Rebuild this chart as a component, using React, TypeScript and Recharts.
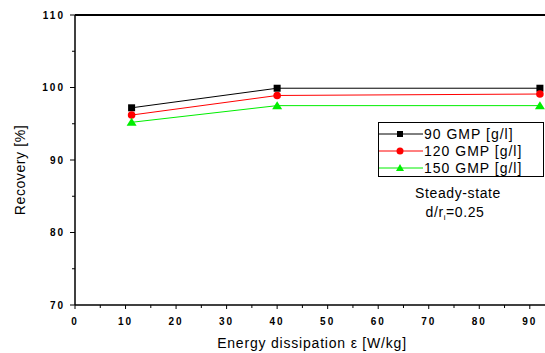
import React from 'react'
import { LineChart, Line, XAxis, YAxis, ReferenceLine, Customized } from 'recharts'

const energy = [11.2, 40, 92]
const gmp90 = [97.2, 99.9, 99.9]
const gmp120 = [96.2, 98.9, 99.1]
const gmp150 = [95.2, 97.5, 97.5]
const xTicks = [0, 5, 10, 15, 20, 25, 30, 35, 40, 45, 50, 55, 60, 65, 70, 75, 80, 85, 90]
const yTicks = [70, 75, 80, 85, 90, 95, 100, 105, 110]

const data = energy.map((e, i) => ({ e, a: gmp90[i], b: gmp120[i], c: gmp150[i] }))

const font = 'Arial, "Liberation Sans", sans-serif'

const XTick = (props: any) => {
  const { x, y, payload } = props
  const major = payload.value % 10 === 0
  return (
    <g>
      <line x1={x} x2={x} y1={y} y2={y + (major ? 4 : 3)} stroke="#000" />
      {major && (
        <text x={x} y={y + 20} textAnchor="middle" fontSize={10} fontWeight="bold" letterSpacing={2} fill="#000" fontFamily={font}>
          {payload.value}
        </text>
      )}
    </g>
  )
}

const YTick = (props: any) => {
  const { x, y, payload } = props
  const major = payload.value % 10 === 0
  return (
    <g>
      <line x1={x} x2={x - (major ? 5 : 3)} y1={y} y2={y} stroke="#000" />
      {major && (
        <text x={x - 10} y={y + 3.5} textAnchor="end" fontSize={10} fontWeight="bold" letterSpacing={2} fill="#000" fontFamily={font}>
          {payload.value}
        </text>
      )}
    </g>
  )
}

const Square = (p: any) => <rect x={p.cx - 3.5} y={p.cy - 3.5} width={7} height={7} fill="#000" />
const Circle = (p: any) => <circle cx={p.cx} cy={p.cy} r={3.8} fill="#ff0000" />
const Tri = (p: any) => <path d={`M${p.cx},${p.cy - 4.5} L${p.cx + 5},${p.cy + 3.5} L${p.cx - 5},${p.cy + 3.5} Z`} fill="#00ee00" />

const series = [
  { label: '90 GMP [g/l]', color: '#000', mark: 'sq' },
  { label: '120 GMP [g/l]', color: '#ff0000', mark: 'ci' },
  { label: '150 GMP [g/l]', color: '#00ee00', mark: 'tr' },
]

const LegendBox = () => (
  <div style={{ position: 'absolute', left: 378, top: 122, width: 166, height: 55, border: '1px solid #000', background: '#fff', boxSizing: 'border-box', paddingTop: 2 }}>
    {series.map(s => (
      <div key={s.label} style={{ display: 'flex', alignItems: 'center', height: 17, fontFamily: font, fontSize: 14, color: '#000' }}>
        <svg width={44} height={12}>
          <line x1={0} x2={44} y1={6} y2={6} stroke={s.color} />
          {s.mark === 'sq' && <rect x={18} y={3} width={6} height={6} fill={s.color} />}
          {s.mark === 'ci' && <circle cx={21} cy={6} r={3.5} fill={s.color} />}
          {s.mark === 'tr' && <path d="M21,2 L25,9 L17,9 Z" fill={s.color} />}
        </svg>
        <span style={{ marginLeft: 1, letterSpacing: 1 }}>{s.label}</span>
      </div>
    ))}
  </div>
)

const Note = () => (
  <g fontFamily={font} fill="#000">
    <text x={458} y={198} textAnchor="middle" fontSize={14} letterSpacing={0.6}>Steady-state</text>
    <text x={455} y={217} textAnchor="middle" fontSize={14} letterSpacing={0.6}>
      d/r<tspan fontSize={8} dy={3}>i</tspan><tspan dy={-3}>=0.25</tspan>
    </text>
    <text x={312} y={348} textAnchor="middle" fontSize={14} letterSpacing={0.8}>Energy dissipation ε [W/kg]</text>
    <text x={25} y={170} textAnchor="middle" fontSize={14} letterSpacing={0.6} transform="rotate(-90 25 170)">Recovery [%]</text>
  </g>
)

export default function App() {
  return (
    <div style={{ position: 'fixed', left: 0, top: 0, width: 545, height: 353, overflow: 'hidden', background: '#fff' }}>
      <LineChart width={545} height={353} data={data} margin={{ top: 15, right: -3, bottom: 0, left: 0 }}>
        <XAxis
          dataKey="e"
          type="number"
          domain={[0, 93.6]}
          ticks={xTicks}
          allowDataOverflow
          height={48}
          tickSize={0}
          tickMargin={0}
          tick={<XTick />}
          stroke="#000"
          strokeWidth={1.5}
        />
        <YAxis
          type="number"
          domain={[70, 110]}
          ticks={yTicks}
          width={75}
          tickSize={0}
          tickMargin={0}
          tick={<YTick />}
          stroke="#000"
          strokeWidth={1.5}
        />
        <ReferenceLine y={110} stroke="#000" strokeWidth={2} />
        <Line dataKey="a" stroke="#000" strokeWidth={1} dot={<Square />} isAnimationActive={false} />
        <Line dataKey="b" stroke="#ff0000" strokeWidth={1} dot={<Circle />} isAnimationActive={false} />
        <Line dataKey="c" stroke="#00ee00" strokeWidth={1} dot={<Tri />} isAnimationActive={false} />
        <Customized component={<Note />} />
      </LineChart>
      <LegendBox />
    </div>
  )
}
